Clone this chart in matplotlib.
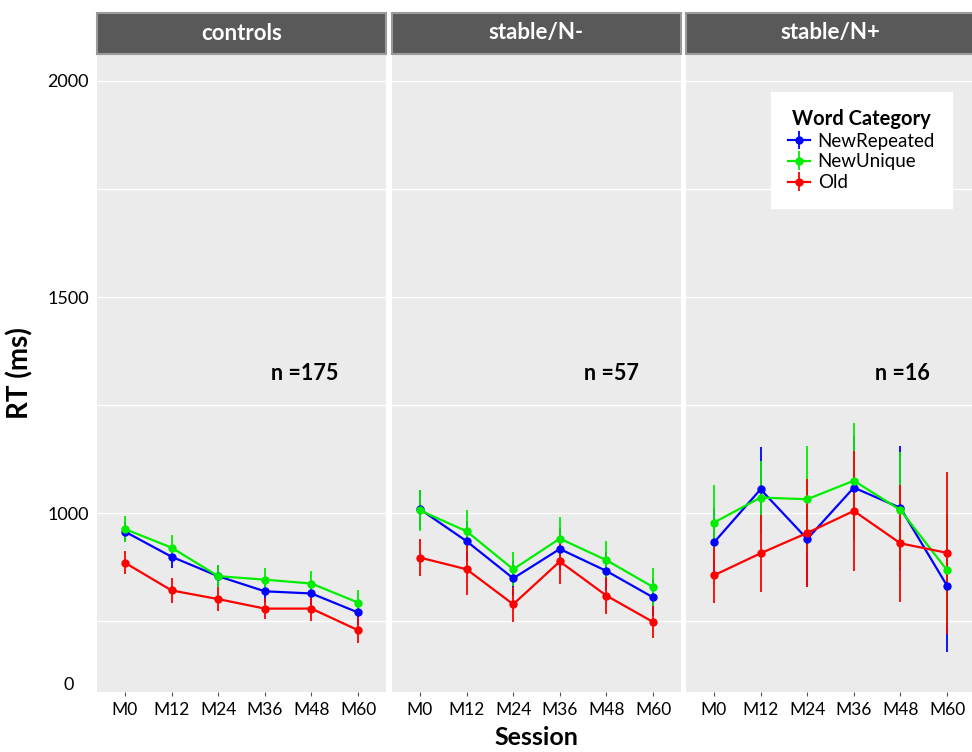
import numpy as np
import matplotlib
matplotlib.use("Agg")
from matplotlib import pyplot as plt
from matplotlib.patches import Rectangle
from matplotlib import transforms

plt.rcParams["font.family"] = ["Lato", "DejaVu Sans"]

sessions = ["M0", "M12", "M24", "M36", "M48", "M60"]
groups = ["controls", "stable/N-", "stable/N+"]
n_labels = ["n =175", "n =57", "n =16"]
categories = ["NewRepeated", "NewUnique", "Old"]
colors = ["#0000FF", "#00EE00", "#FF0000"]

# mean RT per group (rows: controls, stable/N-, stable/N+)
new_repeated = [[957, 899, 854, 819, 814, 770],
                [1009, 935, 849, 917, 866, 805],
                [932, 1055, 940, 1059, 1012, 832]]
new_unique = [[963, 920, 854, 846, 837, 793],
              [1006, 958, 870, 941, 891, 829],
              [978, 1036, 1032, 1075, 1007, 868]]
old = [[885, 821, 801, 779, 779, 729],
       [897, 870, 789, 888, 809, 748],
       [856, 907, 954, 1005, 930, 908]]

# error bar half-widths
new_repeated_err = [[23, 27, 26, 25, 26, 28],
                    [45, 47, 40, 48, 44, 42],
                    [80, 99, 110, 120, 143, 153]]
new_unique_err = [[30, 30, 26, 26, 28, 30],
                  [47, 49, 39, 49, 44, 45],
                  [86, 84, 124, 133, 135, 130]]
old_err = [[27, 28, 28, 25, 28, 30],
           [43, 60, 40, 51, 42, 36],
           [65, 89, 125, 139, 135, 187]]

means = [new_repeated, new_unique, old]
errs = [new_repeated_err, new_unique_err, old_err]

fig = plt.figure(figsize=(9.72, 7.52), dpi=100)
W, H = 972, 752
lefts = [97, 392, 686]
n_xpos = [0.72, 0.76, 0.75]
pw = 289
top, bottom = 55, 692
ph = bottom - top
ylo, yhi = 586, 2060
x = np.arange(len(sessions))

axes = []
for g, name in enumerate(groups):
    ax = fig.add_axes([lefts[g] / W, 1 - bottom / H, pw / W, ph / H])
    axes.append(ax)
    ax.set_facecolor("#EBEBEB")
    for s in ax.spines.values():
        s.set_visible(False)
    ax.set_xlim(-0.6, 5.6)
    ax.set_ylim(ylo, yhi)
    ax.set_yticks([1000, 1500, 2000])
    ax.set_yticks([750, 1250, 1750], minor=True)
    ax.grid(True, which="both", axis="y", color="white", lw=1.0)
    ax.set_axisbelow(True)
    ax.set_xticks(x)
    ax.set_xticklabels(sessions, fontsize=12.5)
    ax.tick_params(axis="x", length=3, color="#555555", pad=4)
    ax.tick_params(axis="y", which="both", length=0, pad=6)
    if g == 0:
        ax.set_yticklabels(["1000", "1500", "2000"], fontsize=13)
        trans = transforms.blended_transform_factory(ax.transAxes, ax.transData)
        ax.text(-0.08, 602, "0", transform=trans, fontsize=13, ha="right", va="center")
        ax.set_ylabel("RT (ms)", fontsize=20, fontweight="bold", labelpad=10)
    else:
        ax.set_yticklabels([])
    if g == 1:
        ax.set_xlabel("Session", fontsize=18, fontweight="bold", labelpad=6)

    for c in range(len(categories)):
        ax.errorbar(x, means[c][g], yerr=errs[c][g], color=colors[c], lw=1.6,
                    elinewidth=1.3, ecolor=colors[c], capsize=0, marker="o",
                    markersize=5, label=categories[c])

    ax.text(n_xpos[g], 1324, n_labels[g], fontsize=15.5, fontweight="bold",
            ha="center", va="center",
            transform=transforms.blended_transform_factory(ax.transAxes, ax.transData))

    strip = Rectangle((0, 1 + 1 / ph), 1, 41 / ph, transform=ax.transAxes,
                      facecolor="#595959", edgecolor="#9A9A9A", lw=1.5, clip_on=False)
    ax.add_patch(strip)
    ax.text(0.5, 1 + 22 / ph, name, transform=ax.transAxes, color="white",
            fontsize=16, fontweight="bold", ha="center", va="center")

leg = axes[2].legend(loc="upper right", bbox_to_anchor=(0.92, 0.942),
                     borderaxespad=0, title="Word Category", fontsize=13.5,
                     frameon=True, fancybox=False, framealpha=1, edgecolor="white",
                     handlelength=1.2, handletextpad=0.4, labelspacing=0.2,
                     borderpad=0.9)
leg.get_title().set_fontweight("bold")
leg.get_title().set_fontsize(14.5)

fig.savefig("out.png", dpi=100)
